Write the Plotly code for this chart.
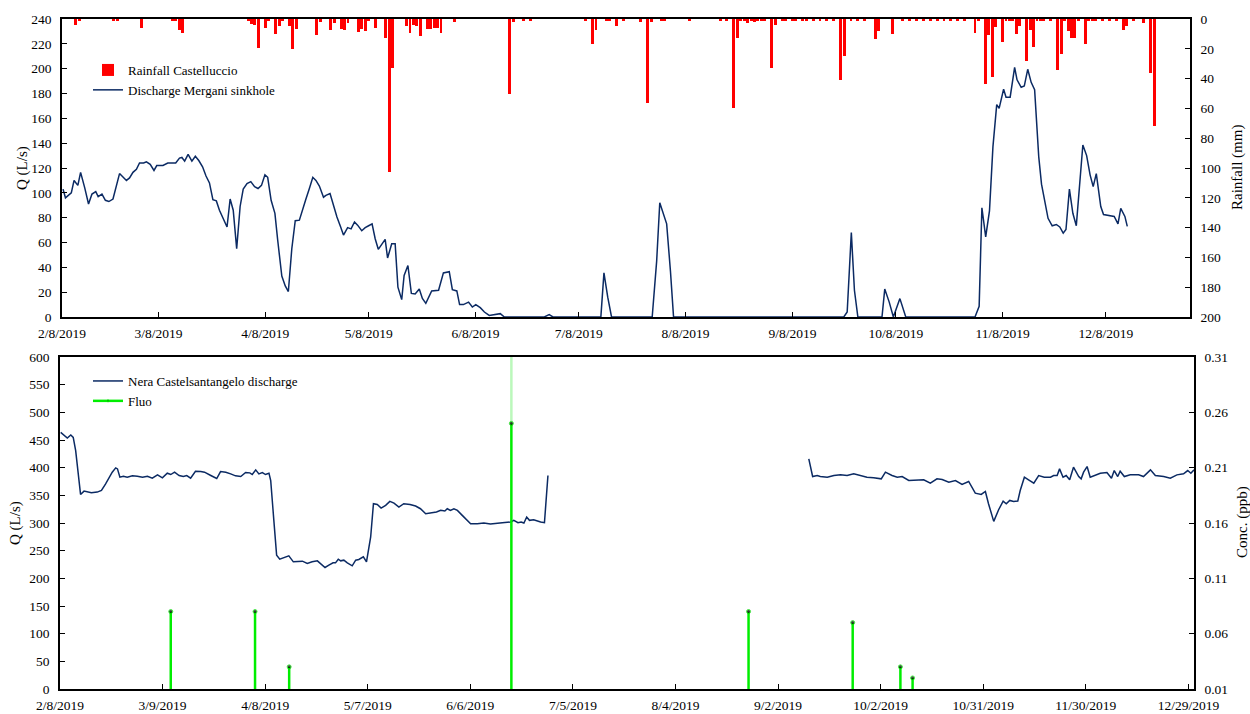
import pandas as pd
import plotly.graph_objects as go

# all x values are days counted from 2019-02-08
start = pd.Timestamp("2019-02-08")

# --- top panel: Mergani sinkhole discharge (L/s) ---
mergani_day = [0.3, 1, 2.7, 3.5, 4.6, 5.4, 6.6, 7.7, 8.7, 9.8, 10.5, 11.6, 12.6, 13.6, 14.8, 15.9, 16.7,
               18.7, 19.6, 20.6, 21.6, 22.5, 23.7, 24.5, 25.6, 26.7, 27.5, 29.3, 30.7, 31.7, 33, 34.1, 34.8,
               35.6, 36.6, 37.7, 38.7, 39.7, 40.8, 41.8, 42.8, 43.8, 44.8, 45.7, 46.9, 47.9, 48.8, 49.7,
               50.7, 51.7, 52.6, 53.7, 54.8, 55.9, 56.9, 57.9, 58.9, 59.7, 60.7, 61.8, 62.6, 63.8, 64.8,
               65.7, 66.7, 67.7, 68.9, 69.9, 70.8, 71.8, 72.8, 73.7, 74.7, 75.9, 76.6, 77.8, 78.8, 79.8,
               80.8, 81.7, 82.9, 83.9, 84.9, 85.8, 87, 88, 89, 90, 90.9, 91.8, 93.8, 94.5, 95.7, 96.7,
               97.5, 98.6, 99.3, 100.4, 101.4, 102.5, 103.7, 104.6, 105.6, 107.3, 109.3, 110.7, 112.4,
               113.3, 114.6, 115.4, 116.5, 118, 119.1, 120.1, 121.4, 122.6, 124, 125.7, 127.2, 128.4,
               140, 141.4, 142.5, 156.4, 157.3, 158.4, 159.5, 171.3, 172.6, 173.5, 174.5, 175.5, 176.6,
               177.5, 226.9, 227.9, 229.1, 230, 231, 238, 238.8, 240.1, 241.3, 243.2, 244.9, 265, 266.2,
               267, 268.1, 269.2, 270.2, 271.3, 272, 273.3, 274, 275.2, 276.5, 277.2, 278.4, 279.3, 280.3,
               281.3, 282.3, 283.5, 284.3, 285.2, 286.2, 287.4, 288.6, 289.6, 290.6, 291.4, 292.4, 293.4,
               294.4, 296.3, 297.4, 298.4, 299.3, 300.2, 301.5, 302.3, 303.5, 304.4, 305.4, 306.5, 307.3,
               308.5, 309.2]
mergani_q = [103, 96, 100, 110, 106, 116.5, 104, 91, 99, 101, 97, 99, 94, 93, 95, 107.5, 115.5,
             110, 112, 116.5, 119, 124, 124, 125, 123, 118, 122, 122, 124, 124, 124, 128, 128.5,
             125.5, 131, 125.5, 129.5, 126, 121, 113.5, 108, 94.5, 93.5, 86, 78, 72.5, 95, 86,
             55, 89, 103, 107.5, 109, 105, 103.5, 106, 114.5, 112.5, 94, 83.5, 62, 33, 25,
             20.5, 55, 77.5, 78, 86, 95, 103.5, 112.5, 110, 105.5, 96.5, 98, 99.5, 89, 80.5,
             73, 66, 72, 71, 76.5, 74, 69.5, 72, 73.5, 75, 63, 54.5, 62.5, 47.5, 59, 59,
             24, 14, 33.5, 41.5, 19, 18.5, 22.5, 15, 11, 21, 21.5, 35.5, 36.5,
             22, 21, 10, 10, 12, 8, 10, 7.5, 4, 1.3, 2.2, 2.7, 0,
             0, 2, 0, 0, 35.5, 16, 0, 0, 45, 92, 83.5, 75, 37,
             0, 0, 4, 68, 21.5, 0, 0, 22.5, 12, 0, 14.8, 0, 0, 8.6,
             88, 64.5, 85.5, 137, 171, 168, 183.5, 177, 177, 201, 191, 185, 186, 199.5,
             189, 183, 129, 107, 93, 79.5, 73.5, 74.5, 72.5, 67.5, 70.5, 103, 83.5,
             73.5, 138.5, 130, 114.5, 105, 115.5, 89, 82.5, 82, 82, 81, 75, 87.5,
             81, 73]

# --- top panel: Castelluccio daily rainfall (mm) ---
rain_day = [4, 5, 15, 16, 23, 32, 33, 34, 35, 54, 55, 56, 57, 59, 60, 62, 63, 64, 66, 67, 68, 74, 75,
            78, 79, 81, 82, 83, 86, 87, 88, 89, 91, 94, 95, 96, 100, 101, 102, 103, 104, 106, 107, 108,
            109, 110, 114, 130, 131, 134, 136, 152, 154, 155, 158, 159, 161, 163, 168, 170, 171, 174,
            175, 182, 191, 193, 195, 196, 197, 198, 199, 200, 201, 202, 203, 204, 206, 207, 209, 210,
            212, 213, 215, 216, 218, 220, 222, 224, 226, 227, 229, 231, 233, 236, 237, 241, 244, 246,
            248, 250, 252, 254, 256, 258, 260, 262, 265, 266, 268, 269, 270, 271, 273, 274, 275, 276,
            277, 278, 280, 281, 282, 283, 284, 285, 287, 289, 290, 291, 292, 293, 294, 295, 297, 298,
            299, 300, 302, 304, 306, 308, 309, 311, 314, 316, 317]
rain_mm = [4, 1, 1.5, 1, 6, 1, 1, 7.5, 9.5, 1, 3.5, 3.8, 19.5, 6, 1.5, 10, 5, 1.5, 5, 20, 6.7, 11, 2,
           7.6, 2.7, 6.7, 7.6, 3, 8.5, 6.7, 8.3, 1.5, 6, 12.8, 103, 33, 5, 9.4, 3.8, 5, 11.2, 6.7, 6.7, 6,
           6, 9.4, 2.2, 50, 2.2, 1.5, 1.5, 1.5, 16.6, 7.6, 1.5, 1.5, 5, 1.5, 2.2, 56.5, 2.2, 1.5,
           1.5, 1.5, 1.5, 1.5, 60, 13, 1.5, 1.5, 3, 1.5, 2, 1.5, 1.5, 1, 33, 3.8, 1, 1.5,
           1, 1, 1.5, 1, 1, 1, 1.5, 1, 41, 25, 1, 1.5, 1, 13.5, 8.3, 10, 1, 1.5,
           1, 1.5, 1, 1, 1.5, 1, 1.5, 1, 9.4, 1.5, 43.5, 11, 38.6, 5.4, 15.7, 1.5, 1.5, 1.5,
           10, 5, 28.5, 7.6, 19, 1.5, 1, 1.5, 1, 34.5, 23.5, 1.5, 8.3, 12.8, 12.8, 1, 16.6, 1.5,
           1, 1.5, 1, 1.5, 1, 7.6, 4.5, 1, 2.7, 36, 72]

# --- bottom panel: Nera Castelsantangelo discharge (L/s), gap Jun-Sep ---
nera_day = [0.2, 1.15, 2.1, 3.1, 3.8, 4.5, 5.2, 5.9, 6.9, 7.9, 9.0, 10.7, 11.9, 13.1, 14.1, 15.0, 16.0,
            16.5, 17.2, 18.2, 19.3, 20.8, 22.2, 23.7, 25.1, 26.5, 28.0, 29.4, 30.8, 31.8, 32.9, 34.2,
            35.4, 36.4, 37.5, 38.9, 40.4, 41.5, 43.3, 45.0, 46.1, 47.6, 49.0, 50.4, 51.9, 53.3, 54.5,
            55.2, 56.2, 57.1, 58.1, 59.0, 60.0, 60.5, 61.4, 62.2, 63.1, 64.3, 65.7, 67.0, 68.1, 69.6,
            71.0, 72.4, 73.9, 74.8, 76.1, 77.2, 78.4, 79.1, 79.9, 80.6, 81.5, 82.5, 83.9, 84.9, 85.8,
            87.1, 88.0, 89.2, 90.0, 91.1, 92.2, 93.5, 94.7, 95.9, 97.3, 98.7, 100.5, 102.1, 103.5,
            105.0, 106.4, 108.1, 109.3, 110.5, 111.2, 112.1, 113.1, 114.1, 115.5, 116.9, 117.9, 119.8,
            121.7, 123.6, 125.5, 127.0, 129.4, 130.3, 131.5, 132.4, 133.2, 134.0, 134.8, 136.0, 138.0,
            139.1, 140.1, None,
            215.0, 216.1, 217.4, 218.3, 220.3, 222.2, 224.1, 226.0, 227.9, 229.8, 231.7, 233.6, 235.8,
            237.0, 238.9, 240.4, 241.8, 243.7, 246.1, 248.0, 249.9, 251.8, 253.3, 255.2, 257.1, 259.0,
            260.9, 262.8, 264.5, 265.7, 266.6, 268.1, 269.5, 270.8, 271.7, 272.7, 273.8, 275.0, 275.7,
            276.9, 278.1, 279.6, 281.0, 282.6, 284.4, 285.3, 286.3, 287.0, 288.0, 288.9, 289.9, 291.0,
            292.5, 293.2, 293.9, 294.9, 295.8, 297.0, 298.7, 300.6, 301.9, 302.7, 303.7, 304.4, 305.6,
            307.3, 309.7, 311.1, 313.1, 314.5, 316.9, 318.8, 320.7, 322.6, 323.8, 324.7, 325.6]
nera_q = [463.8, 457.8, 453.6, 459, 454.8, 430.8, 388.8, 351.6, 357.6, 355.8, 354.6, 355.8, 358.8, 370.8,
          382.8, 391.8, 399.6, 397.8, 382.8, 384.6, 382.8, 385.2, 384.6, 382.8, 384.6, 381, 387, 381.6,
          390, 387.6, 391.8, 385.8, 384, 385.8, 381, 393.6, 393, 391.8, 385.8, 380.4, 393, 391.8, 388.8,
          385.2, 384, 391.2, 390.6, 387.6, 396, 388.8, 391.2, 387.6, 390, 376.8, 304.8, 241.8, 234.6,
          237.6, 240.6, 229.8, 229.8, 231, 226.8, 229.8, 231.6, 226.8, 219.6, 223.8, 228, 228, 234.6,
          231.6, 232.8, 228, 222.6, 232.8, 234, 238.8, 229.8, 274.8, 334.8, 333.6, 327, 331.8, 339, 336,
          328.8, 334.8, 333.6, 330.6, 325.8,
          316.8, 318, 319.8, 322.8, 321.6, 325.8, 322.8, 325.8, 322.8, 313.8, 304.8, 298.8, 298.8,
          300, 298.2, 298.8, 300.6, 301.8, 304.8, 300.6, 301.8, 300, 310.8, 304.8, 306, 301.8,
          300.6, 385.8, None,
          415.8, 384, 385.8, 384, 382.8, 385.8, 387, 385.8, 388.8, 385.8, 382.8, 381.6, 379.8,
          391.8, 385.8, 382.8, 384, 376.8, 376.8, 378, 372, 379.8, 378.6, 373.8, 376.8, 369.6,
          375, 354, 351.6, 357, 334.8, 303, 324, 339.6, 334.8, 340.8, 339, 339.6, 358.8,
          382.8, 378, 372, 385.8, 382.8, 382.8, 385.8, 385.8, 397.8, 382.8, 385.8, 378, 400.8,
          384, 379.8, 391.8, 402, 382.8, 385.8, 390, 391.2, 381, 394.8, 384, 393.6, 384,
          387, 387, 384, 396, 385.8, 384, 381, 387, 388.8, 394.8, 390, 396]

# --- bottom panel: fluorescein samples (ppb) ---
fluo_day = [31.8, 56.0, 65.8, 129.6, 197.7, 227.6, 241.3, 244.8]
fluo_ppb = [0.08, 0.08, 0.03, 0.25, 0.08, 0.07, 0.03, 0.02]
fluo_offscale_day = 129.6      # the June trace runs off the top of the axis
fluo_offscale_top = 0.32

top_ticks = ["2019-02-08", "2019-03-08", "2019-04-08", "2019-05-08", "2019-06-08", "2019-07-08",
             "2019-08-08", "2019-09-08", "2019-10-08", "2019-11-08", "2019-12-08"]
top_tick_text = ["2/8/2019", "3/8/2019", "4/8/2019", "5/8/2019", "6/8/2019", "7/8/2019",
                 "8/8/2019", "9/8/2019", "10/8/2019", "11/8/2019", "12/8/2019"]
bottom_tick_text = ["2/8/2019", "3/9/2019", "4/8/2019", "5/7/2019", "6/6/2019", "7/5/2019",
                    "8/4/2019", "9/2/2019", "10/2/2019", "10/31/2019", "11/30/2019", "12/29/2019"]


def to_date(d):
    if d is None:
        return None
    return (start + pd.Timedelta(days=d)).strftime("%Y-%m-%d %H:%M")


NAVY = "#0b2a63"
FONT = "Liberation Serif"

fig = go.Figure()

fig.add_trace(go.Bar(
    x=[to_date(d) for d in rain_day], y=rain_mm, name="Rainfall Castelluccio",
    marker=dict(color="#ff0000", line_width=0), width=86400000 * 0.85,
    xaxis="x", yaxis="y2", legend="legend"))
fig.add_trace(go.Scatter(
    x=[to_date(d) for d in mergani_day], y=mergani_q, name="Discharge Mergani sinkhole",
    mode="lines", line=dict(color=NAVY, width=1.5), xaxis="x", yaxis="y", legend="legend"))

fig.add_trace(go.Scatter(
    x=[to_date(d) for d in nera_day], y=nera_q, name="Nera Castelsantangelo discharge",
    mode="lines", line=dict(color=NAVY, width=1.5), connectgaps=False,
    xaxis="x2", yaxis="y3", legend="legend2"))

# fluo spikes: vertical segments from the axis floor up to each sample
fx, fy, fs = [], [], []
for d, v in zip(fluo_day, fluo_ppb):
    fx += [to_date(d), to_date(d), None]
    fy += [0.0, v, None]
    fs += [0, 4, 0]
fig.add_trace(go.Scatter(
    x=[to_date(fluo_offscale_day)] * 2, y=[fluo_ppb[3], fluo_offscale_top],
    mode="lines", line=dict(color="rgba(60,235,60,0.35)", width=2.5), showlegend=False,
    xaxis="x2", yaxis="y4"))
fig.add_trace(go.Scatter(
    x=fx, y=fy, name="Fluo", mode="lines+markers",
    line=dict(color="#00ee00", width=2.5),
    marker=dict(color="black", size=fs), xaxis="x2", yaxis="y4", legend="legend2"))

W, H = 1250, 714
axis_common = dict(showline=True, linecolor="black", linewidth=1.5, ticks="inside", ticklen=5,
                   tickcolor="black", tickwidth=1.2, showgrid=False, zeroline=False,
                   automargin=False, tickfont=dict(family=FONT, size=13.5, color="black"))
yaxis_common = dict(axis_common, ticklabelstandoff=6)
xaxis_common = dict(axis_common, ticklabelstandoff=3)
title_font = dict(family=FONT, size=15, color="black")

bottom_tickvals = [to_date(k * 324 / 11) for k in range(12)]

# axis titles placed as rotated annotations (x, y in pixels from top-left)
titles = [("Q (L/s)", 22, 168), ("Rainfall (mm)", 1237, 168),
          ("Q (L/s)", 15, 523), ("Conc. (ppb)", 1242, 522)]

fig.update_layout(
    width=W, height=H, margin=dict(l=0, r=0, t=0, b=0),
    paper_bgcolor="white", plot_bgcolor="white", bargap=0,
    font=dict(family=FONT, size=13, color="black"),
    xaxis=dict(xaxis_common, domain=[62 / W, 1190 / W], anchor="y", type="date",
               range=[to_date(0), to_date(327.4)], tickvals=top_ticks, ticktext=top_tick_text,
               mirror=True),
    yaxis=dict(yaxis_common, domain=[1 - 317 / H, 1 - 19 / H], anchor="x", range=[0, 240], dtick=20),
    yaxis2=dict(yaxis_common, overlaying="y", side="right", anchor="x", range=[200, 0], dtick=20),
    xaxis2=dict(xaxis_common, domain=[60 / W, 1194 / W], anchor="y3", type="date",
                range=[to_date(0), to_date(325.6)], tickvals=bottom_tickvals,
                ticktext=bottom_tick_text, mirror=True),
    yaxis3=dict(yaxis_common, domain=[1 - 689 / H, 1 - 357 / H], anchor="x2", range=[0, 600], dtick=50),
    yaxis4=dict(yaxis_common, overlaying="y3", side="right", anchor="x2", range=[0.01, 0.31],
                tick0=0.01, dtick=0.05, tickformat=".2f"),
    legend=dict(x=88 / W, y=1 - 55 / H, xanchor="left", yanchor="top", bgcolor="rgba(0,0,0,0)",
                font=dict(family=FONT, size=13, color="black"), traceorder="normal"),
    legend2=dict(x=88 / W, y=1 - 366 / H, xanchor="left", yanchor="top", bgcolor="rgba(0,0,0,0)",
                 font=dict(family=FONT, size=13, color="black"), traceorder="normal"),
    annotations=[dict(text=t, x=px / W, y=1 - py / H, xref="paper", yref="paper", showarrow=False,
                      textangle=-90, font=title_font, xanchor="center", yanchor="middle")
                 for t, px, py in titles],
)

# drop the default page margin so the chart sits at the window's top-left corner
fig.write_html("out.html", config={"displayModeBar": False},
               post_script="document.body.style.margin='0';")
